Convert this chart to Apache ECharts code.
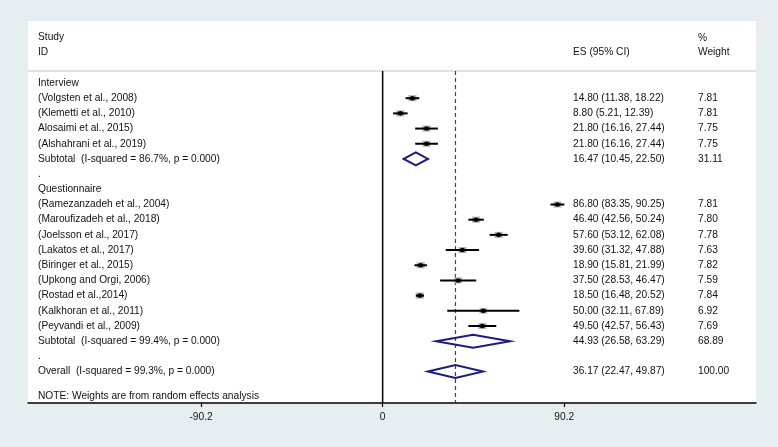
<!DOCTYPE html>
<html>
<head>
<meta charset="utf-8">
<script src="https://cdn.jsdelivr.net/npm/echarts@6/dist/echarts.min.js"></script>
<style>
html,body{margin:0;padding:0;background:#e7eef2;}
#c{width:778px;height:447px;}
</style>
</head>
<body>
<div id="c"></div>
<script>
// ---- data ----
const group1Label = 'Interview';
const group1Studies = ['(Volgsten et al., 2008)', '(Klemetti et al., 2010)', 'Alosaimi et al., 2015)', '(Alshahrani et al., 2019)'];
const group1ES = [14.80, 8.80, 21.80, 21.80];
const group1Lo = [11.38, 5.21, 16.16, 16.16];
const group1Hi = [18.22, 12.39, 27.44, 27.44];
const group1W = [7.81, 7.81, 7.75, 7.75];
const sub1Label = 'Subtotal  (I-squared = 86.7%, p = 0.000)';
const sub1 = [16.47, 10.45, 22.50, 31.11];

const group2Label = 'Questionnaire';
const group2Studies = ['(Ramezanzadeh et al., 2004)', '(Maroufizadeh et al., 2018)', '(Joelsson et al., 2017)', '(Lakatos et al., 2017)', '(Biringer et al., 2015)', '(Upkong and Orgi, 2006)', '(Rostad et al.,2014)', '(Kalkhoran et al., 2011)', '(Peyvandi et al., 2009)'];
const group2ES = [86.80, 46.40, 57.60, 39.60, 18.90, 37.50, 18.50, 50.00, 49.50];
const group2Lo = [83.35, 42.56, 53.12, 31.32, 15.81, 28.53, 16.48, 32.11, 42.57];
const group2Hi = [90.25, 50.24, 62.08, 47.88, 21.99, 46.47, 20.52, 67.89, 56.43];
const group2W = [7.81, 7.80, 7.78, 7.63, 7.82, 7.59, 7.84, 6.92, 7.69];
const sub2Label = 'Subtotal  (I-squared = 99.4%, p = 0.000)';
const sub2 = [44.93, 26.58, 63.29, 68.89];

const overallLabel = 'Overall  (I-squared = 99.3%, p = 0.000)';
const overall = [36.17, 22.47, 49.87, 100.00];
const noteLabel = 'NOTE: Weights are from random effects analysis';

const xTicks = [-90.2, 0, 90.2];

// ---- build rows ----
const FONT = '10.2px "Liberation Sans", Arial, sans-serif';
const TXT = '#111';
const fmt = v => v.toFixed(2);
const ciText = (e, l, h) => fmt(e) + ' (' + fmt(l) + ', ' + fmt(h) + ')';

const textRows = []; // [row, left, es, weight]
const studyData = []; // [es, lo, hi, row, w]
const diamondData = []; // [es, lo, hi, row]
let r = 0;
textRows.push([r++, group1Label, '', '']);
group1Studies.forEach((s, i) => {
  textRows.push([r, s, ciText(group1ES[i], group1Lo[i], group1Hi[i]), fmt(group1W[i])]);
  studyData.push([group1ES[i], group1Lo[i], group1Hi[i], r, group1W[i]]);
  r++;
});
textRows.push([r, sub1Label, ciText(sub1[0], sub1[1], sub1[2]), fmt(sub1[3])]);
diamondData.push([sub1[0], sub1[1], sub1[2], r]); r++;
textRows.push([r++, '.', '', '']);
textRows.push([r++, group2Label, '', '']);
group2Studies.forEach((s, i) => {
  textRows.push([r, s, ciText(group2ES[i], group2Lo[i], group2Hi[i]), fmt(group2W[i])]);
  studyData.push([group2ES[i], group2Lo[i], group2Hi[i], r, group2W[i]]);
  r++;
});
textRows.push([r, sub2Label, ciText(sub2[0], sub2[1], sub2[2]), fmt(sub2[3])]);
diamondData.push([sub2[0], sub2[1], sub2[2], r]); r++;
textRows.push([r++, '.', '', '']);
textRows.push([r, overallLabel, ciText(overall[0], overall[1], overall[2]), fmt(overall[3])]);
diamondData.push([overall[0], overall[1], overall[2], r]); r++;
textRows.push([r + 0.6, noteLabel, '', '']);

const chart = echarts.init(document.getElementById('c'), null, {renderer: 'canvas'});

chart.setOption({
  backgroundColor: '#e7eef2',
  animation: false,
  grid: {left: 28, right: 22, top: 71, bottom: 44},
  graphic: [
    {type: 'rect', z: -10, shape: {x: 28, y: 21, width: 728, height: 382}, style: {fill: '#ffffff'}},
    {type: 'line', z: 1, shape: {x1: 28, y1: 71, x2: 756, y2: 71}, style: {stroke: '#c4c4c4', lineWidth: 1}},
    {type: 'text', x: 38, y: 37, style: {text: 'Study', font: FONT, fill: TXT, verticalAlign: 'middle'}},
    {type: 'text', x: 38, y: 52, style: {text: 'ID', font: FONT, fill: TXT, verticalAlign: 'middle'}},
    {type: 'text', x: 573, y: 52, style: {text: 'ES (95% CI)', font: FONT, fill: TXT, verticalAlign: 'middle'}},
    {type: 'text', x: 698, y: 38, style: {text: '%', font: FONT, fill: TXT, verticalAlign: 'middle'}},
    {type: 'text', x: 698, y: 52, style: {text: 'Weight', font: FONT, fill: TXT, verticalAlign: 'middle'}}
  ],
  xAxis: {
    type: 'value', min: -176.1, max: 185.4,
    splitLine: {show: false},
    axisLine: {show: true, onZero: false, lineStyle: {color: '#000', width: 1.5}},
    axisTick: {show: true, inside: false, length: 4, customValues: xTicks, lineStyle: {color: '#000', width: 1.2}},
    axisLabel: {show: true, customValues: xTicks, margin: 9, color: TXT, fontFamily: '"Liberation Sans", Arial, sans-serif', fontSize: 10.2,
      formatter: v => String(v)}
  },
  yAxis: {
    type: 'value', inverse: true, min: -0.79, max: 21.07, show: false
  },
  series: [
    {
      type: 'custom', name: 'refLines', z: 1,
      data: [[0, 0], [overall[0], 1]],
      renderItem(params, api) {
        const x = api.coord([api.value(0), 0])[0];
        const cs = params.coordSys;
        const solid = api.value(1) === 0;
        return {
          type: 'line',
          shape: {x1: x, y1: cs.y, x2: x, y2: cs.y + cs.height},
          style: solid ? {stroke: '#000', lineWidth: 1.5} : {stroke: '#8e1f30', lineWidth: 1.2, lineDash: [4, 3]}
        };
      }
    },
    {
      type: 'custom', name: 'studies', z: 3,
      data: studyData,
      renderItem(params, api) {
        const y = api.coord([0, api.value(3)])[1];
        const xe = api.coord([api.value(0), 0])[0];
        const xl = api.coord([api.value(1), 0])[0];
        const xh = api.coord([api.value(2), 0])[0];
        const w = api.value(4);
        const bw = 2.9 * Math.sqrt(w), bh = 2.2 * Math.sqrt(w);
        return {
          type: 'group',
          children: [
            {type: 'rect', shape: {x: xe - bw / 2, y: y - bh / 2, width: bw, height: bh}, style: {fill: '#b5b5b5'}},
            {type: 'line', shape: {x1: xl, y1: y, x2: xh, y2: y}, style: {stroke: '#000', lineWidth: 2}},
            {type: 'ellipse', shape: {cx: xe, cy: y, rx: 2.8, ry: 2.3}, style: {fill: '#000'}}
          ]
        };
      }
    },
    {
      type: 'custom', name: 'diamonds', z: 3,
      data: diamondData,
      renderItem(params, api) {
        const y = api.coord([0, api.value(3)])[1];
        const xe = api.coord([api.value(0), 0])[0];
        const xl = api.coord([api.value(1), 0])[0];
        const xh = api.coord([api.value(2), 0])[0];
        const h = 6.5;
        return {
          type: 'polygon',
          shape: {points: [[xl, y], [xe, y - h], [xh, y], [xe, y + h]]},
          style: {fill: 'none', stroke: '#1c1c7e', lineWidth: 2}
        };
      }
    },
    {
      type: 'custom', name: 'texts', z: 4,
      data: textRows.map(t => [t[0], t[1], t[2], t[3]]),
      dimensions: ['row', {name: 'left', type: 'ordinal'}, {name: 'es', type: 'ordinal'}, {name: 'w', type: 'ordinal'}],
      renderItem(params, api) {
        const t = textRows[params.dataIndex];
        const y = api.coord([0, t[0]])[1];
        const cs = params.coordSys;
        const mk = (x, s) => ({type: 'text', x: x, y: y, style: {text: s, font: FONT, fill: TXT, verticalAlign: 'middle', align: 'left'}});
        return {type: 'group', children: [mk(cs.x + 10, t[1]), mk(cs.x + 545, t[2]), mk(cs.x + 670, t[3])]};
      }
    }
  ]
});
</script>
</body>
</html>
